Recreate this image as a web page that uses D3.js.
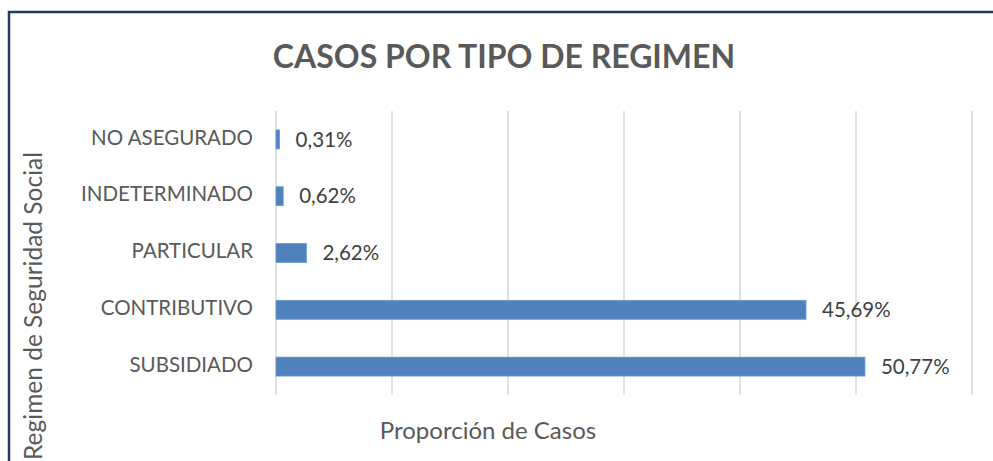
<!DOCTYPE html>
<html><head><meta charset="utf-8">
<script src="https://cdn.jsdelivr.net/npm/d3@7"></script>
<style>body{margin:0;background:#fff}svg{display:block}text{font-family:Lato,"Open Sans",sans-serif}</style>
</head><body>
<svg id="c" width="993" height="461"></svg>
<script>
const categories = ["NO ASEGURADO","INDETERMINADO","PARTICULAR","CONTRIBUTIVO","SUBSIDIADO"];
const values = [0.31, 0.62, 2.62, 45.69, 50.77];
const xTicks = [0,10,20,30,40,50,60];
const title = "CASOS POR TIPO DE REGIMEN";
const xTitle = "Proporción de Casos";
const yTitle = "Regimen de Seguridad Social";

const svg = d3.select("#c");
const W = 993, H = 461;
const m = {left:276, right:21, top:111, bottom:66};

// frame
svg.append("path").attr("d", `M9,${H} L9,12 L${W},12`).attr("fill","none").attr("stroke","#1f3864").attr("stroke-width",2.5);

const x = d3.scaleLinear().domain([0,60]).range([m.left, W-m.right]);
const y = d3.scaleBand().domain(categories).range([m.top, H-m.bottom]).paddingInner(2/3).paddingOuter(1/3);

svg.append("g").selectAll("line").data(xTicks).join("line")
  .attr("x1",d=>x(d)).attr("x2",d=>x(d)).attr("y1",m.top).attr("y2",H-m.bottom)
  .attr("stroke","#d9d9d9").attr("stroke-width",1.5);

svg.append("g").selectAll("rect").data(values).join("rect")
  .attr("x",x(0)).attr("y",(d,i)=>y(categories[i]))
  .attr("width",d=>x(d)-x(0)).attr("height",y.bandwidth())
  .attr("fill","#4f81bd").attr("stroke","#6b9ad0").attr("stroke-width",0.8);

svg.append("g").selectAll("text").data(values).join("text")
  .attr("x",d=>x(d)+16).attr("y",(d,i)=>y(categories[i])+y.bandwidth()/2+2)
  .attr("dominant-baseline","middle").attr("font-size",20.5).attr("fill","#404040")
  .text(d=>d.toFixed(2).replace(".",",")+"%");

svg.append("g").selectAll("text").data(categories).join("text")
  .attr("x",x(0)-23).attr("y",d=>y(d)+y.bandwidth()/2)
  .attr("dominant-baseline","middle").attr("text-anchor","end").attr("font-size",20.5).attr("fill","#595959")
  .text(d=>d);

svg.append("text").attr("x",504).attr("y",68).attr("text-anchor","middle")
  .attr("font-size",32).attr("font-weight","bold").attr("fill","#595959").text(title);

svg.append("text").attr("x",488).attr("y",439).attr("text-anchor","middle")
  .attr("font-size",24).attr("fill","#595959").text(xTitle);

svg.append("text").attr("transform",`translate(42,306) rotate(-90)`).attr("text-anchor","middle")
  .attr("font-size",24.5).attr("fill","#595959").text(yTitle);
</script>
</body></html>
